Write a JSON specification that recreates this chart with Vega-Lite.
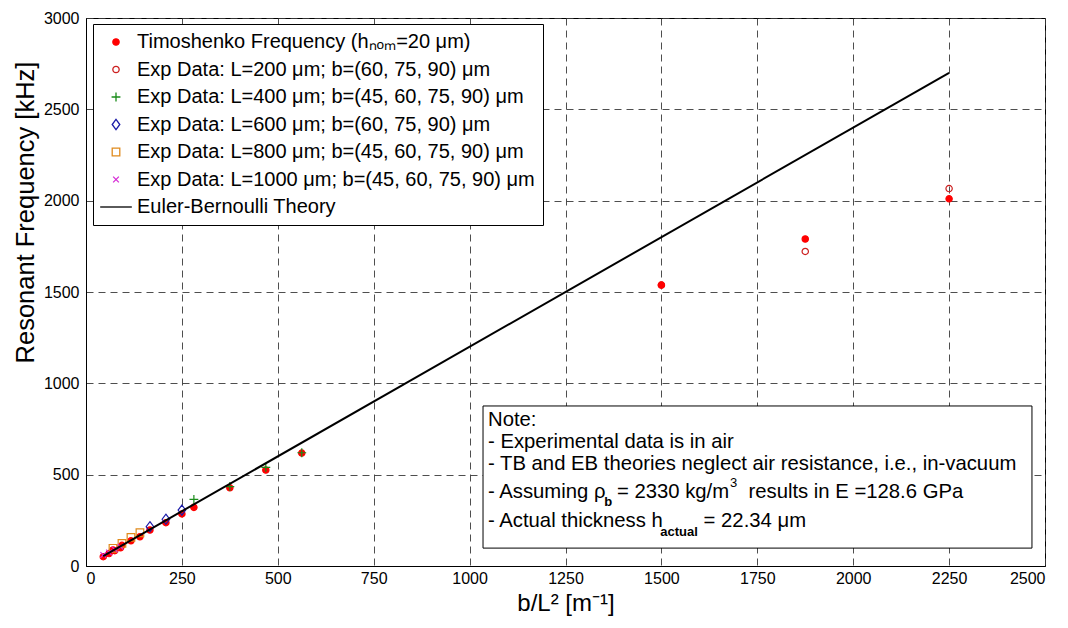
{
  "$schema": "https://vega.github.io/schema/vega-lite/v6.json",
  "width": 959,
  "height": 548,
  "autosize": {"type": "none"},
  "padding": {"left": 86, "top": 18, "right": 23, "bottom": 62},
  "background": "white",
  "config": {
    "font": "Liberation Sans",
    "view": {"stroke": "black", "strokeWidth": 1},
    "axis": {
      "domainColor": "black",
      "ticks": false,
      "grid": true,
      "gridColor": "#3a3a3a",
      "gridDash": [7, 5],
      "gridWidth": 0.9,
      "labelFont": "Liberation Sans",
      "labelFontSize": 16,
      "labelColor": "black",
      "titleFont": "Liberation Sans",
      "titleFontSize": 24,
      "titleFontWeight": "normal",
      "titleColor": "black",
      "format": "d"
    },
    "legend": {
      "orient": "none",
      "legendX": 7,
      "legendY": 6,
      "title": null,
      "strokeColor": "black",
      "fillColor": "white",
      "padding": 8,
      "labelFont": "Liberation Sans",
      "labelFontSize": 20,
      "labelColor": "black",
      "labelLimit": 600,
      "rowPadding": 7.5,
      "symbolSize": 40,
      "symbolStrokeWidth": 1.3,
      "symbolOffset": 5,
      "labelOffset": 11
    }
  },
  "datasets": {
    "pts": [
      {"x": 1500, "y": 1538, "series": "Exp Data: L=200 μm; b=(60, 75, 90) μm"},
      {"x": 45, "y": 51, "series": "Timoshenko Frequency (hₙₒₘ=20 μm)"},
      {"x": 60, "y": 68, "series": "Timoshenko Frequency (hₙₒₘ=20 μm)"},
      {"x": 75, "y": 84, "series": "Timoshenko Frequency (hₙₒₘ=20 μm)"},
      {"x": 90, "y": 100, "series": "Timoshenko Frequency (hₙₒₘ=20 μm)"},
      {"x": 70.3, "y": 88, "series": "Timoshenko Frequency (hₙₒₘ=20 μm)"},
      {"x": 93.75, "y": 113, "series": "Timoshenko Frequency (hₙₒₘ=20 μm)"},
      {"x": 117.2, "y": 138, "series": "Timoshenko Frequency (hₙₒₘ=20 μm)"},
      {"x": 140.6, "y": 160, "series": "Timoshenko Frequency (hₙₒₘ=20 μm)"},
      {"x": 166.7, "y": 197, "series": "Timoshenko Frequency (hₙₒₘ=20 μm)"},
      {"x": 208.3, "y": 237, "series": "Timoshenko Frequency (hₙₒₘ=20 μm)"},
      {"x": 250, "y": 285, "series": "Timoshenko Frequency (hₙₒₘ=20 μm)"},
      {"x": 281.25, "y": 321, "series": "Timoshenko Frequency (hₙₒₘ=20 μm)"},
      {"x": 375, "y": 428, "series": "Timoshenko Frequency (hₙₒₘ=20 μm)"},
      {"x": 468.75, "y": 525, "series": "Timoshenko Frequency (hₙₒₘ=20 μm)"},
      {"x": 562.5, "y": 618, "series": "Timoshenko Frequency (hₙₒₘ=20 μm)"},
      {"x": 1500, "y": 1538, "series": "Timoshenko Frequency (hₙₒₘ=20 μm)"},
      {"x": 1875, "y": 1790, "series": "Timoshenko Frequency (hₙₒₘ=20 μm)"},
      {"x": 2250, "y": 2010, "series": "Timoshenko Frequency (hₙₒₘ=20 μm)"},
      {"x": 1875, "y": 1722, "series": "Exp Data: L=200 μm; b=(60, 75, 90) μm"},
      {"x": 2250, "y": 2066, "series": "Exp Data: L=200 μm; b=(60, 75, 90) μm"},
      {"x": 281.25, "y": 365, "series": "Exp Data: L=400 μm; b=(45, 60, 75, 90) μm"},
      {"x": 375, "y": 435, "series": "Exp Data: L=400 μm; b=(45, 60, 75, 90) μm"},
      {"x": 468.75, "y": 540, "series": "Exp Data: L=400 μm; b=(45, 60, 75, 90) μm"},
      {"x": 562.5, "y": 620, "series": "Exp Data: L=400 μm; b=(45, 60, 75, 90) μm"},
      {"x": 166.7, "y": 215, "series": "Exp Data: L=600 μm; b=(60, 75, 90) μm"},
      {"x": 208.3, "y": 256, "series": "Exp Data: L=600 μm; b=(60, 75, 90) μm"},
      {"x": 250, "y": 306, "series": "Exp Data: L=600 μm; b=(60, 75, 90) μm"},
      {"x": 70.3, "y": 97, "series": "Exp Data: L=800 μm; b=(45, 60, 75, 90) μm"},
      {"x": 93.75, "y": 124, "series": "Exp Data: L=800 μm; b=(45, 60, 75, 90) μm"},
      {"x": 117.2, "y": 157, "series": "Exp Data: L=800 μm; b=(45, 60, 75, 90) μm"},
      {"x": 140.6, "y": 182, "series": "Exp Data: L=800 μm; b=(45, 60, 75, 90) μm"},
      {"x": 45, "y": 60, "series": "Exp Data: L=1000 μm; b=(45, 60, 75, 90) μm"},
      {"x": 60, "y": 74, "series": "Exp Data: L=1000 μm; b=(45, 60, 75, 90) μm"},
      {"x": 75, "y": 90, "series": "Exp Data: L=1000 μm; b=(45, 60, 75, 90) μm"},
      {"x": 90, "y": 105, "series": "Exp Data: L=1000 μm; b=(45, 60, 75, 90) μm"}
    ],
    "eb": [
      {"x": 45, "y": 54},
      {"x": 2250, "y": 2700}
    ],
    "notebox": [
      {"x": 1035, "x2": 2466, "y": 876, "y2": 98}
    ],
    "notetext": [
      {"x": 1048, "y": 799, "text": "Note:"},
      {"x": 1048, "y": 679, "text": "- Experimental data is in air"},
      {"x": 1048, "y": 558, "text": "- TB and EB theories neglect air resistance, i.e., in-vacuum"},
      {"x": 1048, "y": 405, "text": "- Assuming ρ"},
      {"x": 1384, "y": 405, "text": "= 2330 kg/m"},
      {"x": 1727, "y": 405, "text": "results in E =128.6 GPa"},
      {"x": 1048, "y": 246, "text": "- Actual thickness h"},
      {"x": 1610, "y": 246, "text": "= 22.34 μm"}
    ],
    "notesub": [
      {"x": 1351, "y": 350, "text": "b"},
      {"x": 1497, "y": 186, "text": "actual"}
    ],
    "notesup": [
      {"x": 1679, "y": 454, "text": "3"}
    ]
  },
  "encoding": {
    "x": {
      "field": "x",
      "type": "quantitative",
      "scale": {"domain": [0, 2500], "nice": false, "zero": false},
      "axis": {"title": "b/L² [m⁻¹]", "values": [0, 250, 500, 750, 1000, 1250, 1500, 1750, 2000, 2250, 2500], "labelPadding": 4, "titlePadding": 5}
    },
    "y": {
      "field": "y",
      "type": "quantitative",
      "scale": {"domain": [0, 3000], "nice": false, "zero": false},
      "axis": {"title": "Resonant Frequency [kHz]", "titleFontSize": 25.5, "values": [0, 500, 1000, 1500, 2000, 2500, 3000], "labelPadding": 7, "titleX": -61, "titleY": 194, "titleAlign": "center", "titleBaseline": "middle", "titleAngle": 270}
    }
  },
  "layer": [
    {
      "data": {"name": "notebox"},
      "mark": {"type": "rect", "fill": "white", "stroke": "black", "strokeWidth": 1},
      "encoding": {
        "x2": {"field": "x2"},
        "y2": {"field": "y2"}
      }
    },
    {
      "data": {"name": "pts"},
      "mark": {"type": "point", "size": 40, "strokeWidth": 1.2, "opacity": 1},
      "encoding": {
        "fill": {
          "field": "series", "type": "nominal", "sort": null,
          "scale": {
            "domain": ["Timoshenko Frequency (hₙₒₘ=20 μm)", "Exp Data: L=200 μm; b=(60, 75, 90) μm", "Exp Data: L=400 μm; b=(45, 60, 75, 90) μm", "Exp Data: L=600 μm; b=(60, 75, 90) μm", "Exp Data: L=800 μm; b=(45, 60, 75, 90) μm", "Exp Data: L=1000 μm; b=(45, 60, 75, 90) μm", "Euler-Bernoulli Theory"],
            "range": ["#ff0000", "transparent", "transparent", "transparent", "transparent", "transparent", "transparent"]
          },
          "legend": {"title": null}
        },
        "stroke": {
          "field": "series", "type": "nominal", "sort": null,
          "scale": {
            "domain": ["Timoshenko Frequency (hₙₒₘ=20 μm)", "Exp Data: L=200 μm; b=(60, 75, 90) μm", "Exp Data: L=400 μm; b=(45, 60, 75, 90) μm", "Exp Data: L=600 μm; b=(60, 75, 90) μm", "Exp Data: L=800 μm; b=(45, 60, 75, 90) μm", "Exp Data: L=1000 μm; b=(45, 60, 75, 90) μm", "Euler-Bernoulli Theory"],
            "range": ["#ff0000", "#cc1f1f", "#1a8c1a", "#1c1ca8", "#e08a1c", "#d62ed6", "#000000"]
          },
          "legend": {"title": null}
        },
        "shape": {
          "field": "series", "type": "nominal", "sort": null,
          "scale": {
            "domain": ["Timoshenko Frequency (hₙₒₘ=20 μm)", "Exp Data: L=200 μm; b=(60, 75, 90) μm", "Exp Data: L=400 μm; b=(45, 60, 75, 90) μm", "Exp Data: L=600 μm; b=(60, 75, 90) μm", "Exp Data: L=800 μm; b=(45, 60, 75, 90) μm", "Exp Data: L=1000 μm; b=(45, 60, 75, 90) μm", "Euler-Bernoulli Theory"],
            "range": ["circle", "circle", "M-1.4,0H1.4M0,-1.4V1.4", "M0,-1.6L1.2,0L0,1.6L-1.2,0Z", "M-1.2,-1.2H1.2V1.2H-1.2Z", "M-0.9,-0.9L0.9,0.9M-0.9,0.9L0.9,-0.9", "M-5,0H5"]
          },
          "legend": {"title": null}
        }
      }
    },
    {
      "data": {"name": "eb"},
      "mark": {"type": "line", "color": "black", "strokeWidth": 2},
      "encoding": {}
    },
    {
      "data": {"name": "notetext"},
      "mark": {"type": "text", "align": "left", "baseline": "middle", "fontSize": 20.3, "font": "Liberation Sans", "color": "black"},
      "encoding": {"text": {"field": "text"}}
    },
    {
      "data": {"name": "notesub"},
      "mark": {"type": "text", "align": "left", "baseline": "middle", "fontSize": 13, "fontWeight": "bold", "font": "Liberation Sans", "color": "black"},
      "encoding": {"text": {"field": "text"}}
    },
    {
      "data": {"name": "notesup"},
      "mark": {"type": "text", "align": "left", "baseline": "middle", "fontSize": 13, "font": "Liberation Sans", "color": "black"},
      "encoding": {"text": {"field": "text"}}
    }
  ]
}
